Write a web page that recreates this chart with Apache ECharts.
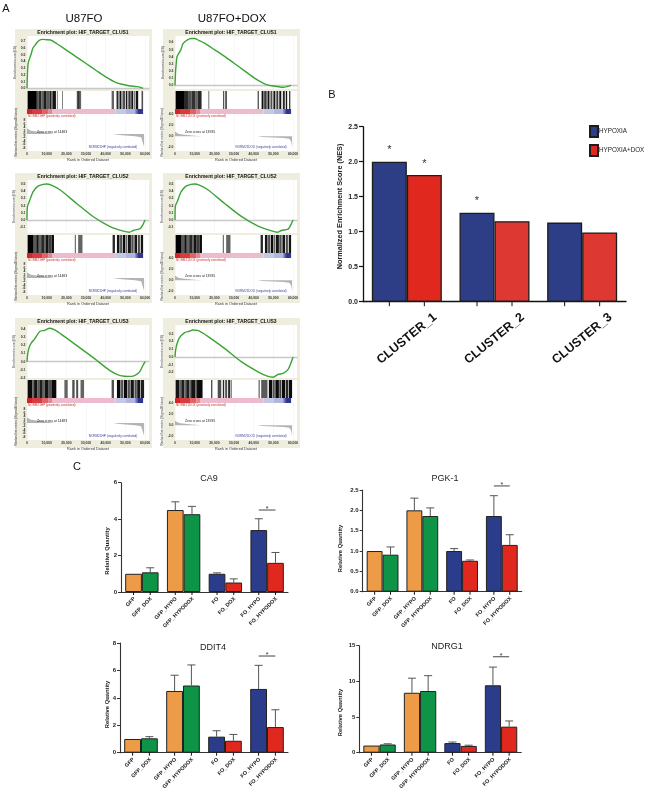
<!DOCTYPE html>
<html><head><meta charset="utf-8">
<style>html,body{margin:0;padding:0;background:#fff}#c{width:648px;height:789px}</style>
<script src="https://cdn.jsdelivr.net/npm/echarts@6/dist/echarts.min.js"></script>
</head><body><div id="c"></div>
<script>
// ---------- Panel A: enrichment curves [rank, ES] ----------
const esClus1Fo=[[0,0],[200,.2],[500,.35],[1000,.42],[2000,.5],[3000,.6],[4000,.64],[5000,.68],[6000,.71],[7000,.725],[8000,.73],[10000,.725],[12000,.72],[14000,.69],[16000,.65],[20000,.57],[25000,.47],[30000,.37],[35000,.27],[40000,.17],[45000,.09],[50000,.05],[54000,.03],[56000,.025],[58000,.01],[59000,0]];
const esClus1Dox=[[0,0],[300,.2],[600,.3],[1000,.4],[2000,.45],[3000,.5],[4000,.58],[5000,.61],[6000,.63],[8000,.655],[10000,.655],[12000,.63],[15000,.59],[20000,.5],[25000,.41],[30000,.31],[35000,.21],[40000,.11],[45000,.03],[48000,0],[52000,-.015],[55000,-.025],[57000,-.015],[59000,0]];
const esClus2Fo=[[0,0],[170,.18],[1360,.27],[3060,.39],[5600,.47],[8160,.495],[9860,.5],[12400,.485],[16700,.42],[25200,.23],[33700,.045],[42200,-.09],[49000,-.155],[52000,-.17],[54000,-.145],[57500,-.12],[58800,-.07],[60000,0]];
const esClus2Dox=[[0,0],[170,.19],[1360,.27],[3060,.39],[5600,.47],[8160,.495],[9860,.5],[12400,.485],[16700,.42],[25200,.23],[33700,.05],[42200,-.085],[49000,-.15],[52000,-.17],[54000,-.145],[57500,-.125],[58800,-.07],[60000,0]];
const esClus3Fo=[[0,0],[340,.09],[1020,.17],[2200,.23],[3900,.28],[6460,.37],[9000,.385],[11560,.41],[14100,.39],[18370,.32],[25170,.2],[33670,.05],[42180,-.11],[47280,-.17],[53230,-.18],[55780,-.155],[57480,-.115],[58840,-.05],[60000,0]];
const esClus3Dox=[[0,0],[340,.09],[1020,.17],[2200,.245],[4760,.31],[7300,.33],[9000,.345],[11560,.34],[16660,.265],[25170,.11],[33670,-.06],[42180,-.19],[47280,-.25],[49800,-.26],[52380,-.225],[54900,-.21],[57480,-.16],[59180,-.06],[60000,0]];

// ---------- Panel A: gene-set hits [startRank, endRank, density] ----------
const hitsClus1Fo=[[300,5000,1],[5000,6000,.6],[6000,7200,.8],[7200,8300,.5],[8300,10000,.85],[10000,11500,.55],[11500,12400,.85],[12400,13000,.55],[13000,14700,.9],[15200,15500,.6],[17800,18200,.5],[25300,26000,.6],[26000,26800,.9],[26800,27500,.5],[43000,44200,.5],[45500,46500,.8],[47000,48000,.9],[48500,49800,.6],[50200,51000,.9],[51500,52700,.7],[53000,54000,.9],[54500,55000,.6],[55300,56500,.9],[58200,59000,.6]];
const hitsClus1Dox=[[300,5000,1],[5000,7000,.8],[7000,8500,.6],[8500,10500,.75],[10500,11500,.5],[11500,13500,.8],[17000,17400,.6],[24500,25000,.8],[25500,26400,.6],[42000,42600,.7],[44000,45000,.9],[45300,46600,.7],[47000,48000,.9],[48500,49500,.6],[50000,51000,.9],[51500,52500,.7],[53000,54000,.9],[54800,55800,.8],[56300,57000,.9],[58000,58600,.8]];
const hitsClus2Fo=[[300,3400,1],[3400,4700,.55],[4700,6000,.9],[6000,7200,.5],[7200,8700,.8],[8700,9600,.55],[9600,11000,.9],[11000,12500,.7],[12500,13700,.95],[24300,24800,.6],[26000,28200,.5],[43500,44700,.8],[45700,47000,.9],[47300,48400,.6],[48700,50000,.95],[50300,51000,.5],[51300,52800,.9],[53000,54200,.6],[54600,56000,.9],[56500,57300,.8],[57800,59000,.9]];
const hitsClus2Dox=hitsClus2Fo;
const hitsClus3Fo=[[300,2600,.95],[2600,3600,.5],[3600,5300,.9],[5300,6300,.55],[6300,8000,.85],[8000,9000,.5],[9000,11000,.9],[11000,12400,.6],[12400,14900,.95],[19000,20700,.5],[23000,24200,.6],[25000,26000,.6],[27200,29000,.5],[43000,44200,.6],[45700,47500,.95],[47800,49000,.6],[49300,51000,.95],[51300,52300,.6],[52600,54300,.9],[54600,55800,.6],[56000,57500,.9],[57800,59500,.85]];
const hitsClus3Dox=[[300,2300,.9],[2300,3200,.5],[3200,4800,.85],[4800,5700,.5],[5700,7300,.85],[7300,8200,.5],[8200,10300,.9],[10300,11200,.55],[11200,14000,.95],[18300,19000,.6],[21700,23500,.6],[24300,25000,.8],[25500,26500,.6],[27000,28000,.8],[28300,28800,.6],[42500,43000,.7],[43800,47000,.55],[47700,49500,.95],[49800,50700,.6],[51000,52800,.95],[53000,54000,.7],[54300,56000,.95],[56300,57500,.8],[57800,59500,.95]];

// ---------- Panel A: colour band [startRank, endRank, score] ----------
const bandSegments=[[0,3000,1],[3000,8000,.85],[8000,11000,.6],[11000,13000,.35],[13000,45000,0],[45000,50000,-.15],[50000,55000,-.25],[55000,56000,-.6],[56000,59000,-.95]];

// ---------- Panel A: ranked list metric [rank, value] ----------
const metricFo=[[0,3.3],[500,2.6],[2000,2],[5000,1.5],[10000,.7],[14483,0],[44000,0],[46000,-.4],[50000,-.8],[55000,-1.3],[58000,-1.9],[59000,-3],[59500,-7.5]];
const metricDox=[[0,.85],[500,.6],[2000,.42],[5000,.28],[10000,.1],[13935,0],[42000,0],[44000,-.1],[50000,-.2],[55000,-.3],[58000,-.45],[59000,-.9],[59500,-2]];

const panelTitles=['Enrichment plot: HIF_TARGET_CLUS1','Enrichment plot: HIF_TARGET_CLUS1','Enrichment plot: HIF_TARGET_CLUS2','Enrichment plot: HIF_TARGET_CLUS2','Enrichment plot: HIF_TARGET_CLUS3','Enrichment plot: HIF_TARGET_CLUS3'];
const esSeries=[esClus1Fo,esClus1Dox,esClus2Fo,esClus2Dox,esClus3Fo,esClus3Dox];
const hitSeries=[hitsClus1Fo,hitsClus1Dox,hitsClus2Fo,hitsClus2Dox,hitsClus3Fo,hitsClus3Dox];
const esRanges=[[-.01,.78],[-.05,.69],[-.18,.555],[-.18,.555],[-.2,.45],[-.27,.41]];
const esTicks=[[0,.1,.2,.3,.4,.5,.6,.7],[0,.1,.2,.3,.4,.5,.6],[-.1,0,.1,.2,.3,.4,.5],[-.1,0,.1,.2,.3,.4,.5],[-.2,-.1,0,.1,.2,.3,.4],[-.2,-.1,0,.1,.2,.3]];
const foMetricTicks=[-8,-6,-4,-2,0,2,4,6,8];
const doxMetricTicks=[-2,0,2,4];

// ---------- Panel B ----------
const clusterNames=['CLUSTER_1','CLUSTER_2','CLUSTER_3'];
const nesHypoxia=[2.0,1.27,1.13];
const nesHypoxiaDox=[1.81,1.15,0.99];
const starsHypoxia=[1,1,0];
const starsHypoxiaDox=[1,0,0];

// ---------- Panel C ----------
const sampleNames=['GFP','GFP_DOX','GFP_HYPO','GFP_HYPODOX','FO','FO_DOX','FO_HYPO','FO_HYPODOX'];
const ca9Means=[1,1.08,4.5,4.27,1,.52,3.4,1.6];
const ca9Upper=[1,1.33,4.95,4.7,1.05,.72,4.02,2.17];
const pgk1Means=[1,.91,2,1.86,1,.76,1.86,1.15];
const pgk1Upper=[1,1.1,2.3,2.06,1.06,.78,2.36,1.4];
const ddit4Means=[1,1.05,4.5,4.9,1.17,.87,4.65,1.87];
const ddit4Upper=[1,1.17,5.65,6.4,1.6,1.33,6.37,3.13];
const ndrg1Means=[1,1.15,8.4,8.65,1.35,.95,9.45,3.65];
const ndrg1Upper=[1,1.25,10.45,10.8,1.5,1.05,12,4.45];
const sigLevels={ca9:4.5,pgk1:2.6,ddit4:7.05,ndrg1:13.45};

// ---------- build ----------
const FONT='"Liberation Sans",Arial,sans-serif';
const grid=[],xAxis=[],yAxis=[],series=[],graphic=[];
const text=(t,x,y,size,o={})=>graphic.push({type:'text',z:100,x,y,silent:true,rotation:o.rot||0,
  style:{text:t,fill:o.color||'#111',font:`${o.bold?'bold ':''}${size}px ${FONT}`,align:o.align||'center',verticalAlign:'middle'}});
function addGrid(g,x,y){grid.push(g);const i=grid.length-1;xAxis.push(Object.assign({gridIndex:i},x));yAxis.push(Object.assign({gridIndex:i},y));return i;}
const mix=(a,b,t)=>`rgb(${a.map((v,i)=>Math.round(v+(b[i]-v)*t)).join(',')})`;
const bandColor=s=>s>=0?mix([237,187,208],[212,38,38],s):mix([226,226,246],[35,45,140],-s);
const hitColor=d=>mix([200,200,200],[0,0,0],d);
const RANK_MAX=62000;
const hGrid=g=>Object.assign({show:true,backgroundColor:'#fff',borderWidth:0},g);
const tinyX={type:'value',min:0,max:RANK_MAX,interval:10000,axisLine:{show:false},axisTick:{show:false},axisLabel:{show:false},splitLine:{show:true,lineStyle:{color:'#eeeeee',width:.5}}};
const rectSeries=(xi,colorFn)=>({type:'custom',xAxisIndex:xi,yAxisIndex:xi,silent:true,encode:{x:[0,1],y:2},
  renderItem:(p,api)=>{const a=api.coord([api.value(0),1]),b=api.coord([api.value(1),0]);
    return{type:'rect',shape:{x:a[0],y:a[1],width:Math.max(b[0]-a[0],.7),height:b[1]-a[1]},style:{fill:colorFn(api.value(2))}};}});

esSeries.forEach((es,i)=>{
  const col=i%2,row=(i-col)/2;
  const px=[15,163][col],py=[29,173,318][row];
  graphic.push({type:'rect',z:-5,silent:true,shape:{x:px,y:py,width:137,height:130},style:{fill:'#EFEDDD'}});
  text(panelTitles[i],px+68,py+4,5,{bold:true});
  const L=px+12,W=122;
  const small={fontSize:3.4,fontFamily:FONT,fontWeight:'bold',color:'#333',margin:1.5};
  const nameStyle={fontSize:3.3,fontFamily:FONT,color:'#333'};
  const gi=addGrid(hGrid({left:L,width:W,top:py+7,height:53}),
    Object.assign({},tinyX,{axisLine:{show:true,onZero:true,lineStyle:{color:'#c8c8c8',width:1.3}}}),
    {type:'value',min:esRanges[i][0],max:esRanges[i][1],splitLine:{show:false},
     axisLine:{show:false},axisTick:{show:false},
     axisLabel:Object.assign({customValues:esTicks[i],formatter:v=>v.toFixed(1)},small),
     name:'Enrichment score (ES)',nameLocation:'middle',nameGap:9.5,nameTextStyle:nameStyle});
  series.push({type:'line',xAxisIndex:gi,yAxisIndex:gi,data:es,showSymbol:false,smooth:.25,silent:true,lineStyle:{color:'#3AA535',width:1.4}});
  const hi=addGrid(hGrid({left:L,width:W,top:py+62,height:18}),Object.assign({},tinyX,{splitLine:{show:false}}),{type:'value',min:0,max:1,show:false});
  series.push(Object.assign(rectSeries(hi,hitColor),{data:hitSeries[i]}));
  const bi=addGrid(hGrid({left:L,width:W,top:py+80,height:5}),Object.assign({},tinyX,{splitLine:{show:false}}),{type:'value',min:0,max:1,show:false});
  series.push(Object.assign(rectSeries(bi,bandColor),{data:bandSegments}));
  const isFo=col===0;
  const ri=addGrid(hGrid({left:L,width:W,top:py+85,height:37}),
    Object.assign({},tinyX,{axisLabel:Object.assign({show:true,showMaxLabel:false,formatter:v=>v?v.toLocaleString('en-US'):'0'},small),
      name:'Rank in Ordered Dataset',nameLocation:'middle',nameGap:7,nameTextStyle:{fontSize:3.8,fontFamily:FONT,color:'#333'}}),
    {type:'value',min:isFo?-10:-2.66,max:isFo?11.8:4.05,splitLine:{show:false},axisLine:{show:false},axisTick:{show:false},
     axisLabel:Object.assign({customValues:isFo?foMetricTicks:doxMetricTicks,formatter:v=>isFo?String(v):v.toFixed(1)},small),
     name:'Ranked list metric (Signal2Noise)',nameLocation:'middle',nameGap:9.5,nameTextStyle:nameStyle});
  series.push({type:'line',xAxisIndex:ri,yAxisIndex:ri,data:isFo?metricFo:metricDox,showSymbol:false,silent:true,lineStyle:{width:0},areaStyle:{color:'#b4b4b4',opacity:1}});
  text(isFo?'NORM21HP (positively correlated)':'NORM21DOX (positively correlated)',L+1,py+87,3.1,{color:'#C83030',align:'left'});
  text(isFo?'NORM21HP (negatively correlated)':'NORM21DOX (negatively correlated)',L+86,py+118,3.1,{color:'#3A3FA0'});
  text(isFo?'Zero cross at 14483':'Zero cross at 13935',L+25,py+103,3.4,{color:'#222'});
});

text('A',6,9,11);text('B',332,95,11);text('C',77,467,11);
text('U87FO',84,19,11.5);text('U87FO+DOX',232,19,11.5);

// side ticks & rotated labels drawn per bar of each group
function tickSeries(gi,barW,names,len){
  const d=[];for(let g=0;g<(names?names.length/2:3);g++){d.push([g,0,-1,2*g]);d.push([g,0,1,2*g+1]);}
  return{type:'custom',xAxisIndex:gi,yAxisIndex:gi,silent:true,data:d,clip:false,z:5,
    renderItem:(p,api)=>{const c=api.coord([api.value(0),0]);const x=c[0]+api.value(2)*barW/2;
      const ch=[{type:'line',shape:{x1:x,y1:c[1],x2:x,y2:c[1]+len},style:{stroke:'#111',lineWidth:1}}];
      if(names)ch.push({type:'text',x:x+1,y:c[1]+6,rotation:Math.PI/4,style:{text:names[api.value(3)],fill:'#222',
        font:`bold 5.4px ${FONT}`,align:'right',verticalAlign:'middle'}});
      return{type:'group',children:ch};}};
}

// Panel B
const bi=addGrid({left:363,width:263,top:126.7,height:175},
  {type:'category',data:clusterNames,axisTick:{show:false},axisLine:{lineStyle:{color:'#111',width:1.3}},
   axisLabel:{interval:0,rotate:39,align:'center',verticalAlign:'middle',margin:37,fontSize:12.5,fontWeight:'bold',fontFamily:FONT,color:'#111'}},
  {type:'value',min:0,max:2.5,interval:.5,splitLine:{show:false},axisLine:{show:true,lineStyle:{color:'#111',width:1.3}},
   axisTick:{show:true,length:4,lineStyle:{color:'#111',width:1.2}},
   axisLabel:{formatter:v=>v.toFixed(1),fontSize:7,fontWeight:'bold',fontFamily:FONT,color:'#222',margin:5}});
text('Normalized Enrichment Score (NES)',340,206.5,7.3,{bold:true,rot:Math.PI/2,color:'#222'});
const star=(flags,i)=>flags[i]?{show:true,position:'top',distance:6,formatter:'*',fontSize:11,fontFamily:FONT,color:'#333'}:{show:false};
const edge={borderColor:'#1c1c1c',borderWidth:1.3};
series.push({name:'HYPOXIA',type:'bar',xAxisIndex:bi,yAxisIndex:bi,barWidth:35,barGap:0,silent:true,
  itemStyle:Object.assign({color:'#2D3E87'},edge),
  data:nesHypoxia.map((v,i)=>({value:v,label:star(starsHypoxia,i)}))});
series.push({name:'HYPOXIA+DOX',type:'bar',xAxisIndex:bi,yAxisIndex:bi,barWidth:35,barGap:0,silent:true,
  itemStyle:Object.assign({color:'#E0281F'},edge),
  data:nesHypoxiaDox.map((v,i)=>({value:v,label:star(starsHypoxiaDox,i),itemStyle:i?{color:'#DE3833'}:undefined}))});
series.push(tickSeries(bi,35,null,4.5));

// Panel C
const lightColors=['#EE9B47','#2A3C8A'],darkColors=['#0E9447','#E0281F'];
function barPanel(o){
  const w=o.w;
  const bw=o.barW;
  const gi=addGrid({left:o.left,width:w,top:o.top,height:o.h},
    {type:'category',data:[0,1,2,3].map(i=>sampleNames[2*i]),axisLabel:{show:false},axisTick:{show:false},axisLine:{lineStyle:{color:'#333',width:1.1}}},
    {type:'value',min:0,max:o.max,interval:o.step,splitLine:{show:false},axisLine:{show:true,lineStyle:{color:'#333',width:1.1}},
     axisTick:{show:true,length:3,lineStyle:{color:'#333',width:1}},
     axisLabel:{formatter:v=>o.dec?v.toFixed(1):String(v),fontSize:6,fontWeight:'bold',fontFamily:FONT,color:'#222',margin:4}});
  text('Relative Quantity',o.nx,o.ny,5.8,{bold:true,rot:Math.PI/2,color:'#222'});
  const pick=(arr,s)=>[0,1,2,3].map(i=>arr[2*i+s]);
  series.push({type:'bar',xAxisIndex:gi,yAxisIndex:gi,barWidth:bw,barGap:0,silent:true,
    data:pick(o.means,0).map((v,i)=>({value:v,itemStyle:{color:lightColors[i>>1],borderColor:'#222',borderWidth:1}}))});
  series.push({type:'bar',xAxisIndex:gi,yAxisIndex:gi,barWidth:bw,barGap:0,silent:true,
    data:pick(o.means,1).map((v,i)=>({value:v,itemStyle:{color:darkColors[i>>1],borderColor:'#222',borderWidth:1}}))});
  // error bars
  const eb=[];for(let i=0;i<8;i++)if(o.upper[i]>o.means[i])eb.push([i>>1,o.upper[i],i%2?1:-1,o.means[i]]);
  series.push({type:'custom',xAxisIndex:gi,yAxisIndex:gi,silent:true,clip:false,z:4,data:eb,
    renderItem:(p,api)=>{const t=api.coord([api.value(0),api.value(1)]),b=api.coord([api.value(0),api.value(3)]);
      const x=t[0]+api.value(2)*bw/2,s={stroke:'#555',lineWidth:1};
      return{type:'group',children:[{type:'line',shape:{x1:x,y1:b[1],x2:x,y2:t[1]},style:s},
        {type:'line',shape:{x1:x-4,y1:t[1],x2:x+4,y2:t[1]},style:s}]};}});
  // significance bracket
  series.push({type:'custom',xAxisIndex:gi,yAxisIndex:gi,silent:true,clip:false,z:4,data:[[3,o.sig]],
    renderItem:(p,api)=>{const c=api.coord([api.value(0),api.value(1)]);
      return{type:'group',children:[{type:'line',shape:{x1:c[0]-bw/2,y1:c[1],x2:c[0]+bw/2,y2:c[1]},style:{stroke:'#444',lineWidth:1}},
        {type:'text',x:c[0],y:c[1]-1,style:{text:'*',fill:'#333',font:`7px ${FONT}`,align:'center',verticalAlign:'middle'}}]};}});
  series.push(tickSeries(gi,bw,sampleNames,3));
  text(o.title,o.tx,o.ty,9,{color:'#222'});
}
barPanel({title:'CA9',tx:209,ty:479,left:121,w:167,top:482.7,h:109.3,max:6,step:2,means:ca9Means,upper:ca9Upper,sig:sigLevels.ca9,barW:16.7,nx:107.5,ny:551});
barPanel({title:'PGK-1',tx:445,ty:479,left:362.7,w:159,top:490,h:101.7,max:2.5,step:.5,dec:true,means:pgk1Means,upper:pgk1Upper,sig:sigLevels.pgk1,barW:15.9,nx:340.5,ny:548.5});
barPanel({title:'DDIT4',tx:213,ty:648,left:120,w:168,top:643,h:109.7,max:8,step:2,means:ddit4Means,upper:ddit4Upper,sig:sigLevels.ddit4,barW:16.8,nx:107,ny:704.5});
barPanel({title:'NDRG1',tx:447,ty:647,left:359.3,w:162,top:645.7,h:107,max:15,step:5,means:ndrg1Means,upper:ndrg1Upper,sig:sigLevels.ndrg1,barW:16.2,nx:340,ny:712.5});

const chart=echarts.init(document.getElementById('c'),null,{renderer:'canvas'});
chart.setOption({animation:false,backgroundColor:'#fff',tooltip:{show:false},grid,xAxis,yAxis,series,graphic,
  legend:{data:['HYPOXIA','HYPOXIA+DOX'],orient:'vertical',left:589,top:125,padding:0,itemWidth:8,itemHeight:11,itemGap:6,selectedMode:false,icon:'rect',
    textStyle:{fontSize:6.3,fontFamily:FONT,color:'#222',padding:[0,0,0,-4]}}});
</script></body></html>
